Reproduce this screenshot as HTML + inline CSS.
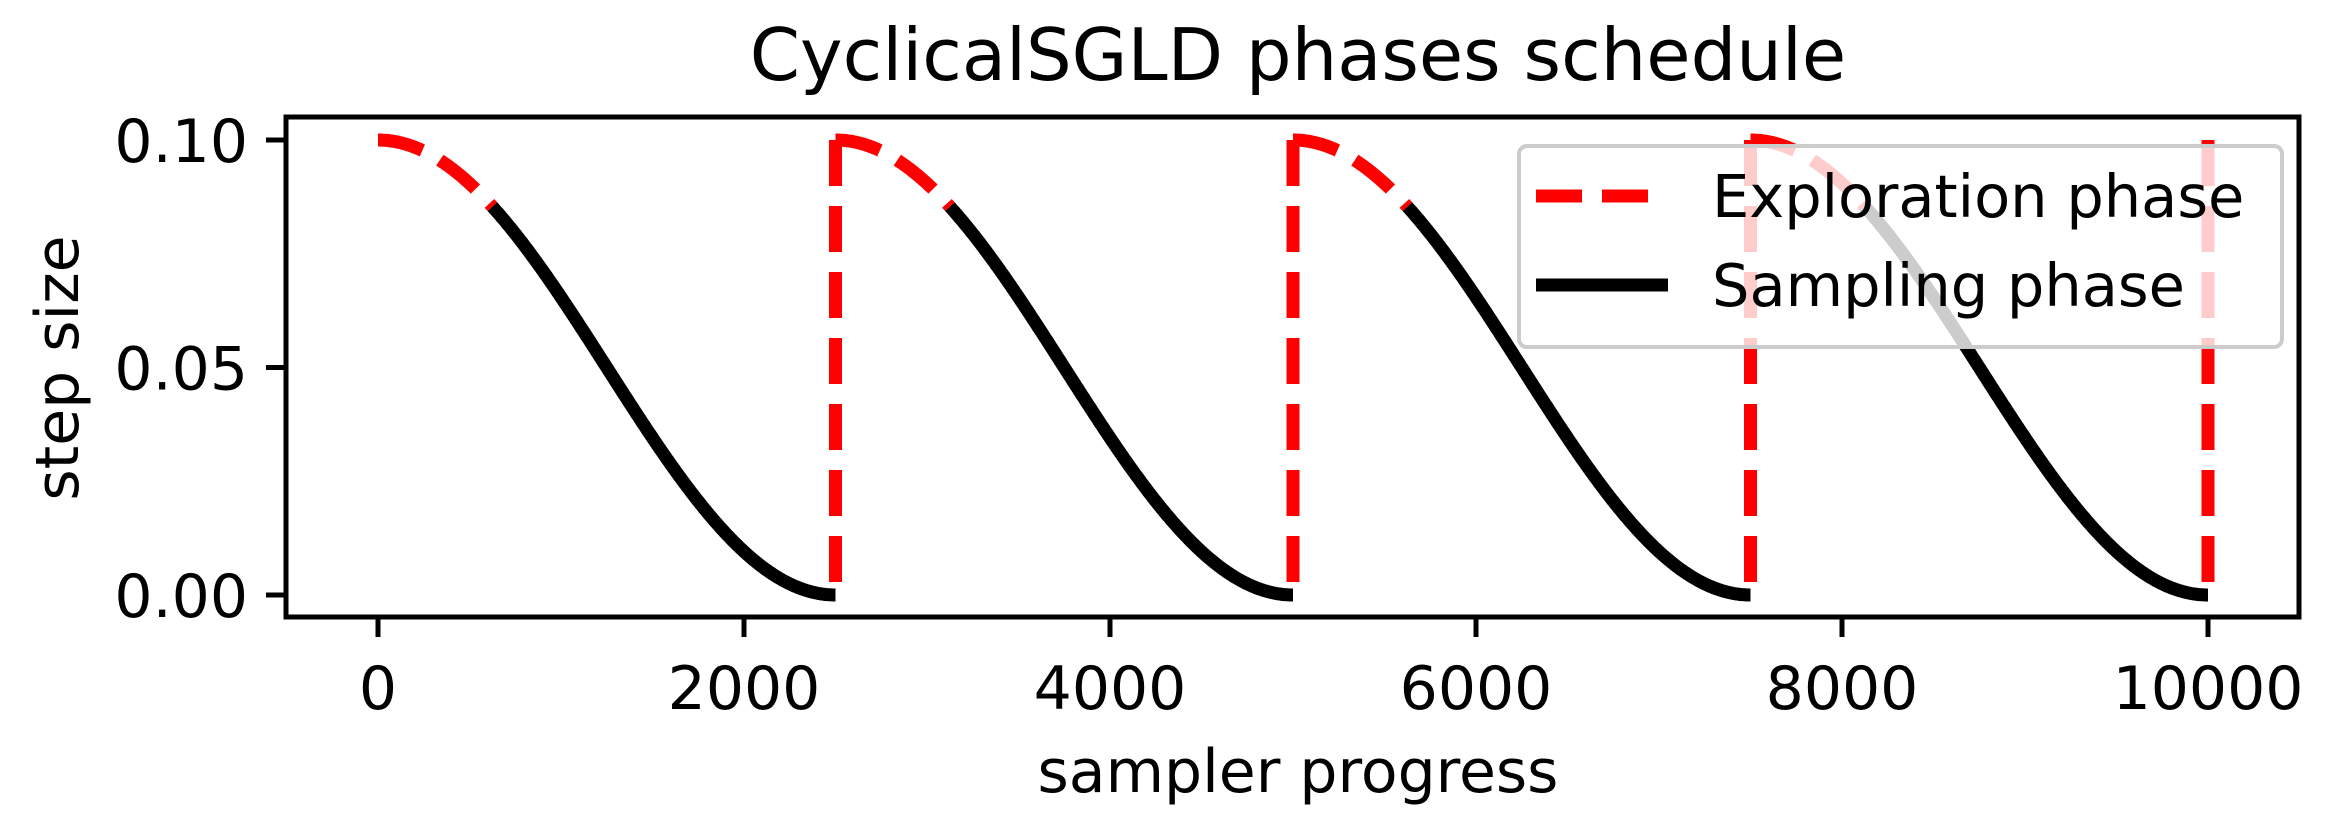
<!DOCTYPE html>
<html><head><meta charset="utf-8"><style>
body{margin:0;background:#fff}
svg{display:block;font-family:"DejaVu Sans","Liberation Sans",sans-serif}
</style></head><body>
<svg id="chart" width="2327" height="820" viewBox="0 0 2327 820">
<text x="1298" y="80" font-size="72" text-anchor="middle">CyclicalSGLD phases schedule</text>
<g id="plot"></g>
<text x="1298" y="792" font-size="60" text-anchor="middle">sampler progress</text>
<text transform="translate(78,368) rotate(-90)" font-size="60" text-anchor="middle">step size</text>
</svg>
<script>
const cycleStarts=[0,2500,5000,7500];
const cycleLength=[2500];
const maxStep=[0.1];
const explorationFraction=[0.25];
const xTicks=[0,2000,4000,6000,8000,10000];
const xTickLabels=["0","2000","4000","6000","8000","10000"];
const yTicks=[0,0.05,0.1];
const yTickLabels=["0.00","0.05","0.10"];
const legendLabels=["Exploration phase","Sampling phase"];

const NS="http://www.w3.org/2000/svg";
const L=286,R=2299,T=117,B=617;
const X=v=>378+v*(2208-378)/10000;
const Y=v=>595-v*(595-140)/0.1;
const g=document.getElementById('plot');
function mk(tag,attrs,parent){const e=document.createElementNS(NS,tag);for(const k in attrs)e.setAttribute(k,attrs[k]);(parent||g).appendChild(e);return e;}
function step(t){const c=cycleLength[0];return maxStep[0]/2*(Math.cos(Math.PI*(t%c)/c)+1);}
cycleStarts.forEach((s,i)=>{
  const c=cycleLength[0],ex=s+c*explorationFraction[0],end=s+c;
  let pr="",pb="";
  for(let t=s;t<=ex;t+=5){pr+=(pr?"L":"M")+X(t).toFixed(1)+","+Y(step(t-s)).toFixed(1);}
  for(let t=ex;t<=end;t+=5){const v=t>=end?0:maxStep[0]/2*(Math.cos(Math.PI*(t-s)/c)+1);pb+=(pb?"L":"M")+X(t).toFixed(1)+","+Y(v).toFixed(1);}
  const red=mk('path',{d:pr,fill:"none",stroke:"#ff0000","stroke-width":13,"stroke-dasharray":"46,20"});
  
  
  const blk=mk('path',{d:pb,fill:"none",stroke:"#000","stroke-width":13});
  
  
  const v=mk('path',{d:"M"+X(end)+","+Y(maxStep[0])+"L"+X(end)+","+Y(0),fill:"none",stroke:"#ff0000","stroke-width":13,"stroke-dasharray":"46,20"});
  
  
});
const frame=mk('rect',{x:L,y:T,width:R-L,height:B-T,fill:"none",stroke:"#000","stroke-width":5});


xTicks.forEach((v,i)=>{
  const t=mk('line',{x1:X(v),x2:X(v),y1:B,y2:B+20,stroke:"#000","stroke-width":5});
  
  
  const l=mk('text',{x:X(v),y:B+92,"font-size":60,"text-anchor":"middle"});
  l.textContent=xTickLabels[i];
  
  
});
yTicks.forEach((v,i)=>{
  const t=mk('line',{x1:L-20,x2:L,y1:Y(v),y2:Y(v),stroke:"#000","stroke-width":5});
  
  
  const l=mk('text',{x:L-38,y:Y(v)+22,"font-size":60,"text-anchor":"end"});
  l.textContent=yTickLabels[i];
  
  
});
const lg=mk('g',{});


mk('rect',{x:1519,y:146,width:763,height:201,rx:8,fill:"rgba(255,255,255,0.8)",stroke:"#ccc","stroke-width":4},lg);
const s1=mk('line',{x1:1536,x2:1668,y1:196,y2:196,stroke:"#ff0000","stroke-width":13,"stroke-dasharray":"46,20"},lg);


const s2=mk('line',{x1:1536,x2:1668,y1:285,y2:285,stroke:"#000","stroke-width":13},lg);


[196,285].forEach((y,i)=>{
  const t=mk('text',{x:1712,y:y+21,"font-size":59},lg);
  t.textContent=legendLabels[i];
  
  
});
</script>
</body></html>
